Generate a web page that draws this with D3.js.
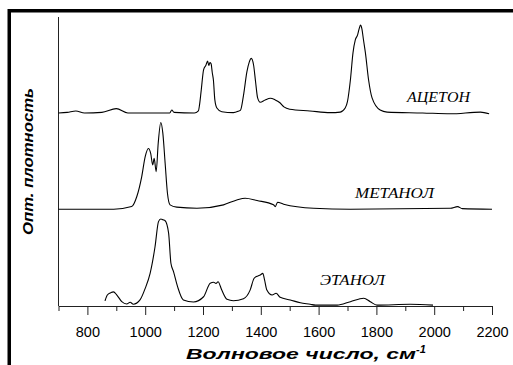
<!DOCTYPE html>
<html><head><meta charset="utf-8">
<script src="https://cdn.jsdelivr.net/npm/d3@7"></script>
<style>html,body{margin:0;padding:0;background:#fff;overflow:hidden}</style>
</head><body>
<svg id="c" width="513" height="365"></svg>
<script>
// ---- data ----
const seriesNames = ["АЦЕТОН", "МЕТАНОЛ", "ЭТАНОЛ"];
const seriesOffsets = [66.8, 33.5, 0];

const acetoneWn  = [700,730,760,790,850,900,940,1000,1085,1092,1100,1170,1184,1188,1194,1202,1210,1216,1220,1224,1228,1232,1236,1241,1248,1265,1305,1322,1330,1340,1352,1360,1367,1375,1382,1389,1398,1415,1433,1450,1465,1480,1500,1570,1640,1675,1692,1700,1710,1719,1727,1735,1740,1745,1750,1755,1762,1773,1785,1813,1837,1960,2056,2160,2190];
const acetoneAbs = [0,0.2,0.7,0,0.2,1.5,0,0,0,1.0,0.2,0,0.7,2.8,8,14.9,16.5,18,16.4,17.4,17,14,11.4,4.5,1.7,0.4,0.1,0.6,1,6,14.3,17.6,18.9,16.6,10.7,5.2,3.7,4.5,5.1,4.5,3.6,2.1,1.3,0.7,0.1,0.3,1.7,4,11.4,20.8,25.3,27,29,30.4,29,25.5,20.8,11.4,5.2,1.0,0.3,0,-0.3,0.3,-0.3];

const methanolWn  = [700,800,891,953,971,988,1000,1011,1019,1026,1031,1038,1045,1054,1061,1069,1077,1086,1109,1179,1271,1317,1346,1387,1444,1450,1458,1479,1583,1710,2056,2081,2097,2200];
const methanolAbs = [0,0,0,0.9,4.4,11.3,18.2,21.0,19.3,15.3,17.6,13.0,22.8,30.0,26.3,15.9,5.5,1.5,0.7,0.3,1.5,3.2,3.8,3.0,1.5,0.9,2.4,1.7,0.3,0,0.3,0.9,0.2,0];

const ethanolWn  = [861,869,881,890,902,919,936,948,959,982,1000,1017,1034,1046,1054,1062,1069,1081,1089,1098,1112,1132,1167,1202,1225,1237,1245,1252,1265,1283,1305,1340,1363,1377,1390,1398,1407,1413,1421,1439,1453,1467,1502,1537,1571,1589,1664,1710,1756,1779,1802,1917,1996];
const ethanolAbs = [1.8,3.8,4.6,4.9,3.8,1.5,0.7,1.3,0.6,2.1,6.1,11.3,20.5,29.2,30.1,29.8,29.5,25.2,14.8,11.9,6.7,2.1,1.4,3.2,7.9,8.2,7.8,8.4,5.5,2.3,1.8,2.5,5.5,9.6,10.4,10.7,11.3,9.0,5.5,3.8,4.4,3.0,2.1,1.1,0.6,0.3,0.3,1.5,2.7,1.5,0.3,0.6,0.3];

const majorTicks = [800,1000,1200,1400,1600,1800,2000,2200];
const minorTicks = [700,900,1100,1300,1500,1700,1900,2100];
const xTitle = "Волновое число, см";
const xTitleSup = "-1";
const yTitle = "Опт. плотность";

// ---- drawing ----
const svg = d3.select("#c");
const x = d3.scaleLinear().domain([700, 2200]).range([58.5, 492]);
const y = d3.scaleLinear().domain([0, 100]).range([306, 17]);

// frame
svg.append("rect").attr("x", 9.25).attr("y", 10.75).attr("width", 600).attr("height", 500)
  .attr("fill", "none").attr("stroke", "#000").attr("stroke-width", 3.5);

// y axis line
svg.append("line").attr("x1", x(700)).attr("x2", x(700)).attr("y1", y(100)).attr("y2", y(0))
  .attr("stroke", "#222").attr("stroke-width", 1);

// x axis
const xAxis = d3.axisBottom(x).tickValues(majorTicks).tickSize(9).tickSizeOuter(0).tickFormat(d3.format("d"));
const gx = svg.append("g").attr("transform", `translate(0,${y(0)})`).call(xAxis);
gx.select(".domain").attr("stroke", "#222");
gx.selectAll(".tick line").attr("stroke", "#222");
gx.selectAll(".tick text").attr("font-family", "Arial, 'Liberation Sans', sans-serif")
  .attr("font-size", 14.5).attr("fill", "#000").attr("dy", "1.28em");
const gxm = svg.append("g").attr("transform", `translate(0,${y(0)})`)
  .call(d3.axisBottom(x).tickValues(minorTicks).tickSize(5).tickSizeOuter(0).tickFormat(""));
gxm.select(".domain").remove();
gxm.selectAll(".tick line").attr("stroke", "#222");

// spectra
const data = [
  {wn: acetoneWn, a: acetoneAbs},
  {wn: methanolWn, a: methanolAbs},
  {wn: ethanolWn, a: ethanolAbs}
];
const line = d3.line().x(d => x(d[0])).y(d => y(d[1])).curve(d3.curveMonotoneX);
data.forEach((s, i) => {
  const pts = s.wn.map((w, j) => [w, s.a[j] + seriesOffsets[i]]);
  svg.append("path").attr("d", line(pts)).attr("fill", "none")
    .attr("stroke", "#000").attr("stroke-width", 1.1);
});

// series labels
const labelPos = [[407, 102, 63], [355, 198, 79], [320, 285, 65]];
seriesNames.forEach((n, i) => {
  svg.append("text").attr("x", labelPos[i][0]).attr("y", labelPos[i][1])
    .attr("font-family", "'Times New Roman', 'Liberation Serif', serif").attr("font-style", "italic")
    .attr("font-size", 15).attr("textLength", labelPos[i][2]).attr("lengthAdjust", "spacingAndGlyphs")
    .text(n);
});

// axis titles
const xt = svg.append("text").attr("x", 186).attr("y", 359)
  .attr("font-family", "Arial, 'Liberation Sans', sans-serif").attr("font-weight", "bold")
  .attr("font-style", "italic").attr("font-size", 15.5);
xt.append("tspan").attr("textLength", 230).attr("lengthAdjust", "spacingAndGlyphs").text(xTitle);
xt.append("tspan").attr("dy", -6).attr("font-size", 11).text(xTitleSup);

svg.append("text").attr("transform", "translate(32.5,161.5) rotate(-90)").attr("text-anchor", "middle")
  .attr("font-family", "Arial, 'Liberation Sans', sans-serif").attr("font-weight", "bold")
  .attr("font-style", "italic").attr("font-size", 15.5)
  .attr("textLength", 147).attr("lengthAdjust", "spacingAndGlyphs").text(yTitle);
</script>
</body></html>
